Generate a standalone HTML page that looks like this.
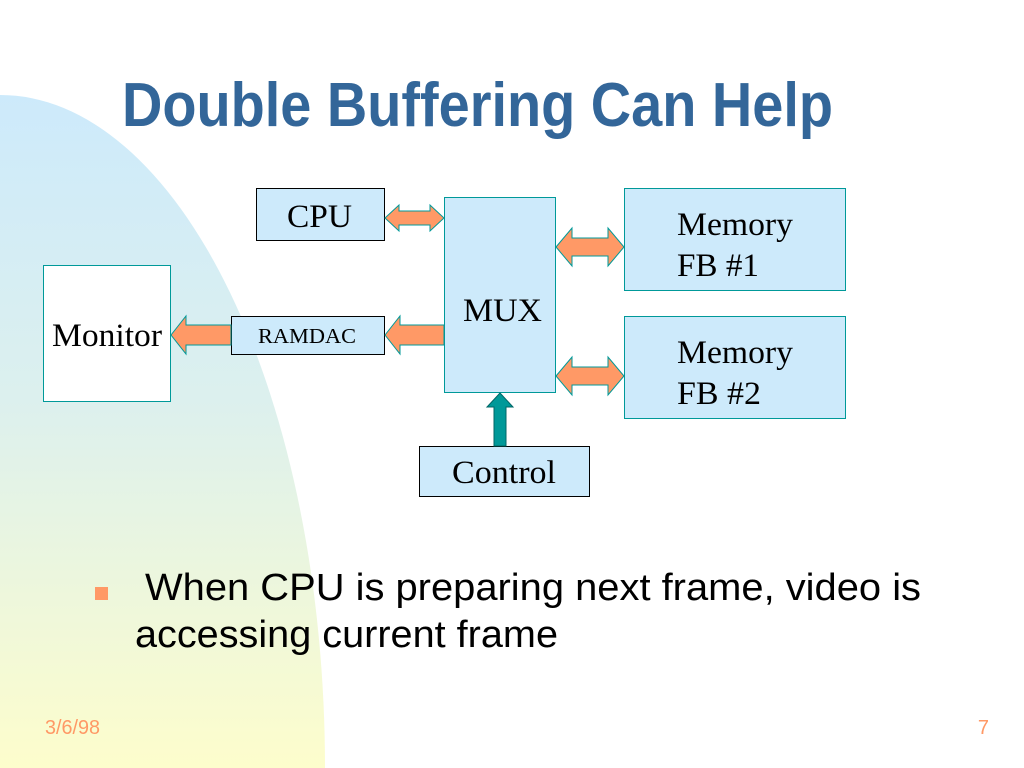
<!DOCTYPE html>
<html><head><meta charset="utf-8"><style>
html,body{margin:0;padding:0;background:#fff;}
svg{display:block;}
</style></head><body>
<svg width="1024" height="768" viewBox="0 0 1024 768" xmlns="http://www.w3.org/2000/svg">
<defs>
<linearGradient id="bg" x1="0" y1="0" x2="0" y2="1">
<stop offset="0" stop-color="#cdeafb"/>
<stop offset="0.45" stop-color="#dcf0ee"/>
<stop offset="1" stop-color="#fdfdcc"/>
</linearGradient>
</defs>
<rect width="1024" height="768" fill="#fff"/>
<path d="M0,95 A325,673 0 0 1 325,768 L0,768 Z" fill="url(#bg)"/>

<text x="122" y="126" font-family="Liberation Sans, sans-serif" font-weight="bold" font-size="62" fill="#336699" textLength="711" lengthAdjust="spacingAndGlyphs">Double Buffering Can Help</text>

<g font-family="Liberation Serif, serif" fill="#000">
<rect x="256.5" y="188.5" width="128" height="52" fill="#cdeafb" stroke="#000"/>
<text x="287" y="227" font-size="33" textLength="65" lengthAdjust="spacingAndGlyphs">CPU</text>

<rect x="444.5" y="197.5" width="111" height="195" fill="#cdeafb" stroke="#009999"/>
<text x="463" y="321" font-size="33" textLength="79" lengthAdjust="spacingAndGlyphs">MUX</text>

<rect x="624.5" y="188.5" width="221" height="102" fill="#cdeafb" stroke="#009999"/>
<text x="677" y="235" font-size="33" textLength="116" lengthAdjust="spacingAndGlyphs">Memory</text>
<text x="677" y="276" font-size="33" textLength="82" lengthAdjust="spacingAndGlyphs">FB #1</text>

<rect x="624.5" y="316.5" width="221" height="102" fill="#cdeafb" stroke="#009999"/>
<text x="677" y="363" font-size="33" textLength="116" lengthAdjust="spacingAndGlyphs">Memory</text>
<text x="677" y="404" font-size="33" textLength="84" lengthAdjust="spacingAndGlyphs">FB #2</text>

<rect x="43.5" y="265.5" width="127" height="136" fill="#fff" stroke="#009999"/>
<text x="52" y="346" font-size="33" textLength="110" lengthAdjust="spacingAndGlyphs">Monitor</text>

<rect x="231.5" y="316.5" width="153" height="38" fill="#cdeafb" stroke="#000"/>
<text x="258" y="343" font-size="21" textLength="98" lengthAdjust="spacingAndGlyphs">RAMDAC</text>

<rect x="419.5" y="446.5" width="170" height="50" fill="#cdeafb" stroke="#000"/>
<text x="452" y="483" font-size="33" textLength="104" lengthAdjust="spacingAndGlyphs">Control</text>
</g>

<g fill="#ff9966" stroke="#009999" stroke-width="1">
<path d="M385,218 L399,205 L399,211 L430,211 L430,205 L444,218 L430,231 L430,225 L399,225 L399,231 Z"/>
<path d="M556,247 L572,228 L572,238 L608,238 L608,228 L624,247 L608,266 L608,256 L572,256 L572,266 Z"/>
<path d="M556,376 L572,357 L572,367 L608,367 L608,357 L624,376 L608,395 L608,385 L572,385 L572,395 Z"/>
<path d="M385,335 L400,316 L400,325 L444,325 L444,345 L400,345 L400,354 Z"/>
<path d="M171,335 L186,316 L186,325 L231,325 L231,345 L186,345 L186,354 Z"/>
</g>
<path d="M500,393 L513,407 L506,407 L506,446 L494,446 L494,407 L487,407 Z" fill="#009999" stroke="#006666" stroke-width="1"/>

<rect x="95" y="587" width="13" height="13" fill="#ff9966"/>
<g font-family="Liberation Sans, sans-serif" font-size="38" fill="#000">
<text x="145" y="600" textLength="776" lengthAdjust="spacingAndGlyphs">When CPU is preparing next frame, video is</text>
<text x="135" y="647" textLength="423" lengthAdjust="spacingAndGlyphs">accessing current frame</text>
</g>
<g font-family="Liberation Sans, sans-serif" font-size="20" fill="#ff9966">
<text x="45" y="734" textLength="55" lengthAdjust="spacingAndGlyphs">3/6/98</text>
<text x="989" y="734" text-anchor="end">7</text>
</g>
</svg>
</body></html>
